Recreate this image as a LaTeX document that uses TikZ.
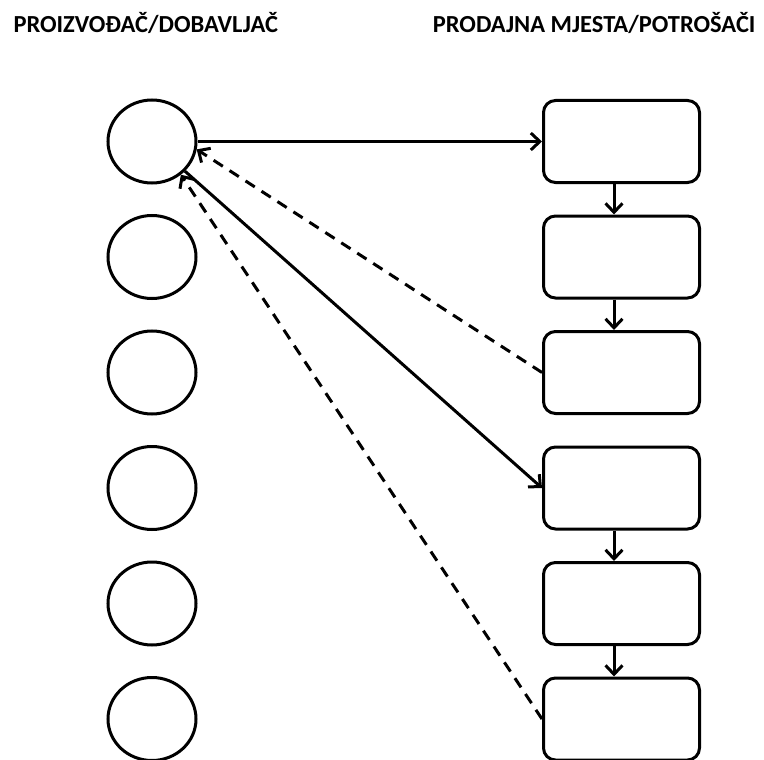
\documentclass[tikz,border=0pt]{standalone}
\usepackage{fontspec}
\setmainfont{Carlito}
\usetikzlibrary{arrows.meta,shapes.geometric}

\begin{document}
\begin{tikzpicture}[x=1pt,y=-1pt]
\useasboundingbox (0,0) rectangle (764,760);

\begin{scope}[node distance=115.5pt,line width=3pt,supplier/.style={ellipse,draw,minimum width=88pt,minimum height=83pt,inner sep=0},outlet/.style={draw,rounded corners=12pt,minimum width=156pt,minimum height=82pt,inner sep=0},heading/.style={font=\fontsize{24.5}{28}\selectfont\bfseries,inner sep=0}]
% Titles
\node[heading,anchor=base west] (t1) at (12,33) {PROIZVOĐAČ/DOBAVLJAČ};
\node[heading,anchor=base east] (t2) at (757,33) {PRODAJNA MJESTA/POTROŠAČI};

% Nodes
\node[supplier] (c1) at (152,141.5) {};
\node[supplier,below of = c1] (c2) {};
\node[supplier,below of = c2] (c3) {};
\node[supplier,below of = c3] (c4) {};
\node[supplier,below of = c4] (c5) {};
\node[supplier,below of = c5] (c6) {};

\node[outlet,right of = c1,xshift=354pt] (r1) {};
\node[outlet,below of = r1] (r2) {};
\node[outlet,below of = r2] (r3) {};
\node[outlet,below of = r3] (r4) {};
\node[outlet,below of = r4] (r5) {};
\node[outlet,below of = r5] (r6) {};

%arcs
\path (c1.east) edge[-{Straight Barb[length=9pt,width=17pt]}] (r1.west);
\path (c1.-42) edge[-{Straight Barb[length=9pt,width=17pt]}] (r4.west);
\path (r3.west) edge[-{Straight Barb[length=9pt,width=17pt]},dash pattern=on 11pt off 8pt] (c1.-10);
\path (r6.west) edge[-{Straight Barb[length=9pt,width=17pt]},dash pattern=on 11pt off 8pt] (c1.-49);

\path ([xshift=-7.5pt]r1.south) edge[-{Straight Barb[length=9pt,width=17pt]}] ([xshift=-7.5pt]r2.north);
\path ([xshift=-7.5pt]r2.south) edge[-{Straight Barb[length=9pt,width=17pt]}] ([xshift=-7.5pt]r3.north);
\path ([xshift=-7.5pt]r4.south) edge[-{Straight Barb[length=9pt,width=17pt]}] ([xshift=-7.5pt]r5.north);
\path ([xshift=-7.5pt]r5.south) edge[-{Straight Barb[length=9pt,width=17pt]}] ([xshift=-7.5pt]r6.north);

\end{scope}

\end{tikzpicture}
\end{document}
